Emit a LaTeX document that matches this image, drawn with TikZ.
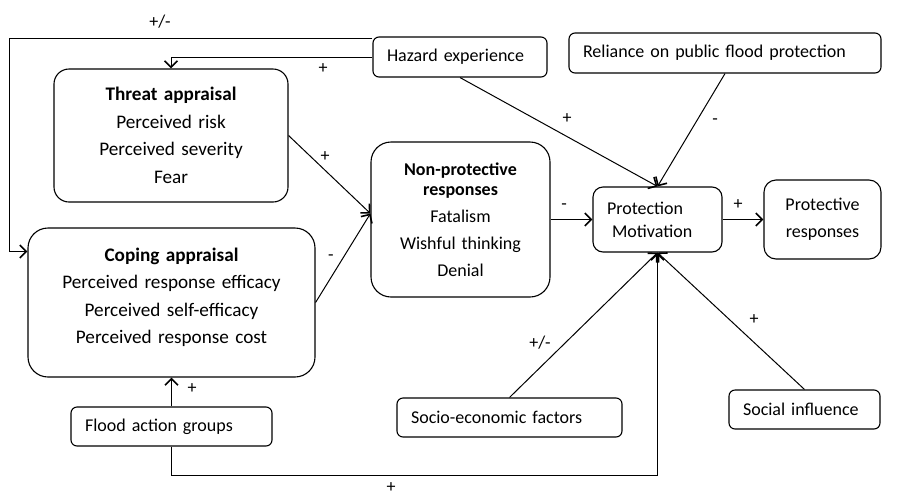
\documentclass[tikz,border=0pt]{standalone}
\usepackage{fontspec}
\setmainfont{Carlito}
\usetikzlibrary{arrows.meta,calc}
\begin{document}
\begin{tikzpicture}[x=1pt,y=-1pt,
  font=\fontsize{18}{27}\selectfont,
  big/.style={font=\fontsize{19.2}{27.6}\selectfont},
  box/.style={draw,line width=1.1pt,inner ysep=0pt},
  lbox/.style={box,rounded corners=6pt,align=left,inner xsep=14pt},
  cbox/.style={box,align=center,inner xsep=8pt},
  conn/.style={line width=1pt},
  arr/.style={conn,-{Straight Barb[length=6.5pt,width=13pt,line width=1.6pt]}},
  lab/.style={inner sep=0pt}]
\useasboundingbox (0,0) rectangle (923,496);

% boxes
\node[cbox,big,rounded corners=15pt,text width=218pt,minimum height=133pt] (threat) at (171,135.5)
  {\textbf{Threat appraisal}\\Perceived risk\\Perceived severity\\Fear};
\node[cbox,big,rounded corners=20pt,text width=271pt,minimum height=149pt] (coping) at (171.5,302.5)
  {\textbf{Coping appraisal}\\Perceived response efficacy\\Perceived self-efficacy\\Perceived response cost\\[-14pt]\mbox{}};
\node[cbox,rounded corners=20pt,text width=163pt,minimum height=155pt] (nonprot) at (460.5,219.5)
  {\textbf{Non-protective}\\[-7pt]\textbf{responses}\\Fatalism\\Wishful thinking\\Denial};
\node[lbox,rounded corners=10pt,text width=101pt,minimum height=65pt,font=\fontsize{18}{23}\selectfont] (pm) at (657.5,219.5)
  {Protection\\\hspace*{5pt}Motivation};
\node[cbox,rounded corners=12pt,text width=101pt,minimum height=79pt] (prot) at (822.5,219.5)
  {Protective\\responses};
\node[lbox,text width=146pt,minimum height=40pt] (hazard) at (460,57) {Hazard experience};
\node[lbox,text width=284pt,minimum height=40pt] (reliance) at (725,53) {Reliance on public flood protection};
\node[lbox,text width=197pt,minimum height=39pt] (socio) at (509.5,417.5) {Socio-economic factors};
\node[lbox,text width=123pt,minimum height=39pt] (social) at (804.5,409.5) {Social influence};
\node[lbox,text width=173pt,minimum height=39pt] (flood) at (171.5,426.5) {Flood action groups};

% connectors
\draw[arr] ($(hazard.north west)+(0,2)$) -- ++(-363,0) |- ($(coping.north west)+(0,24)$);
\draw[arr] (hazard.west) -| (threat.north);
\draw[arr] (hazard.south) -- (pm.north);
\draw[arr] (reliance.south) -- (pm.north);
\coordinate (np) at ($(nonprot.west)+(0,-6)$);
\draw[arr] (threat.east) -- (np);
\draw[arr] (coping.east) -- (np);
\draw[arr] (nonprot.east) -- (pm.west);
\draw[arr] (pm.east) -- (prot.west);
\draw[arr] (socio.north) -- (pm.south);
\draw[arr] (social.north) -- (pm.south);
\draw[arr] (flood.north) -- (coping.south);
\draw[arr] (flood.south) -- ++(0,29) -| (pm.south);

% labels
\node[lab] at (160,22) {+/-};
\node[lab] at (323,69) {+};
\node[lab] at (567,119) {+};
\node[lab] at (715,122) {-};
\node[lab] at (325,157) {+};
\node[lab] at (331,258) {-};
\node[lab] at (564,207) {-};
\node[lab] at (738,205) {+};
\node[lab] at (540,343) {+/-};
\node[lab] at (754,320) {+};
\node[lab] at (192,389) {+};
\node[lab] at (391,488) {+};
\end{tikzpicture}
\end{document}
